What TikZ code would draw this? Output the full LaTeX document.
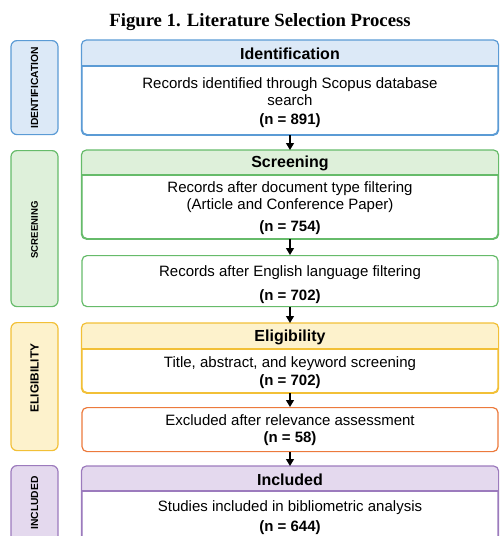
\documentclass[tikz,border=0pt]{standalone}
\usepackage{fontspec}
\setmainfont{Liberation Sans}
\newfontfamily\titlefont{Liberation Serif}
\usepackage{tikz}
\usetikzlibrary{arrows.meta,calc}
\definecolor{identline}{HTML}{5B9BD5}
\definecolor{identfill}{HTML}{DCE9F7}
\definecolor{screenline}{HTML}{66BB6A}
\definecolor{screenfill}{HTML}{DEF0DA}
\definecolor{eligline}{HTML}{F2C037}
\definecolor{eligfill}{HTML}{FDF2CC}
\definecolor{exclline}{HTML}{EC7A3C}
\definecolor{inclline}{HTML}{9C7BBD}
\definecolor{inclfill}{HTML}{E4D9EE}
\tikzset{
  sidebox/.style={rounded corners=6pt, line width=1.2pt, minimum width=47pt, anchor=north, inner sep=0pt},
  sidetext/.style={rotate=90, font=\bfseries\fontsize{#1}{#1}\selectfont, inner sep=0pt},
  mainbox/.style={fill=white, rounded corners=5pt, line width=1.2pt, minimum width=416pt, anchor=north, inner sep=0pt},
  headtext/.style={font=\bfseries\fontsize{16}{18}\selectfont, inner sep=0pt},
  bodytext/.style={font=\fontsize{15}{17}\selectfont, align=center, inner sep=0pt},
  counttext/.style={font=\bfseries\fontsize{15}{17}\selectfont, inner sep=0pt},
  flow/.style={line width=1.3pt, -{Triangle[length=7pt,width=8pt]}}
}

\begin{document}
\begin{tikzpicture}[x=1pt, y={(0pt,-1pt)}]
    \useasboundingbox (0,0) rectangle (499,536);
    \clip (0,0) rectangle (499,536);
    %Values
    \def\hh{26};
    \def\cx{290};

    \node[font=\titlefont\bfseries\fontsize{18.7}{20}\selectfont, inner sep=0pt] (title) at (260,22) {Figure 1. Literature Selection Process};

    % side stages
    \node[sidebox, draw=identline, fill=identfill, minimum height=94pt] (identside) at (34.5,40) {};
    \node[sidetext=10.3] (identlab) at (34.5,88) {IDENTIFICATION};
    \node[sidebox, draw=screenline, fill=screenfill, minimum height=156pt] (screenside) at (34.5,150) {};
    \node[sidetext=9.6] (screenlab) at (34.5,230) {SCREENING};
    \node[sidebox, draw=eligline, fill=eligfill, minimum height=128pt] (eligside) at (34.5,322) {};
    \node[sidetext=11.8] (eliglab) at (34.5,378) {ELIGIBILITY};
    \node[sidebox, draw=inclline, fill=inclfill, minimum height=110pt] (inclside) at (34.5,465) {};
    \node[sidetext=10.3] (incllab) at (34.5,503) {INCLUDED};

    % Identification
    \node[mainbox, draw=identline, minimum height=94pt] (idbox) at (\cx,40) {};
    \fill[identfill] ($(idbox.north west)+(0,\hh)$) [rounded corners=5pt] -- (idbox.north west) -- (idbox.north east) [sharp corners] -- ($(idbox.north east)+(0,\hh)$) -- cycle;
    \draw[identline, line width=1.2pt] ($(idbox.north west)+(0,\hh)$) -- ($(idbox.north east)+(0,\hh)$);
    \draw[identline, line width=1.2pt, rounded corners=5pt] (idbox.north west) rectangle (idbox.south east);
    \node[headtext] (idhead) at (\cx,53.5) {Identification};
    \node[bodytext] (idtxt) at (\cx,92) {Records identified through Scopus database\\search};
    \node[counttext] (idn) at (\cx,120.5) {(n = 891)};

    % Screening
    \node[mainbox, draw=screenline, minimum height=88pt] (scrbox) at (\cx,150) {};
    \fill[screenfill] ($(scrbox.north west)+(0,25)$) [rounded corners=5pt] -- (scrbox.north west) -- (scrbox.north east) [sharp corners] -- ($(scrbox.north east)+(0,25)$) -- cycle;
    \draw[screenline, line width=1.2pt] ($(scrbox.north west)+(0,25)$) -- ($(scrbox.north east)+(0,25)$);
    \draw[screenline, line width=1.2pt, rounded corners=5pt] (scrbox.north west) rectangle (scrbox.south east);
    \node[headtext] (scrhead) at (\cx,163.5) {Screening};
    \node[bodytext] (scrtxt) at (\cx,197.5) {Records after document type filtering\\(Article and Conference Paper)};
    \node[counttext] (scrn) at (\cx,227.5) {(n = 754)};

    \node[mainbox, draw=screenline, minimum height=51pt] (engbox) at (\cx,255) {};
    \node[bodytext] (engtxt) at (\cx,272.5) {Records after English language filtering};
    \node[counttext] (engn) at (\cx,296.5) {(n = 702)};

    % Eligibility
    \node[mainbox, draw=eligline, minimum height=69pt] (eligbox) at (\cx,323) {};
    \fill[eligfill] ($(eligbox.north west)+(0,\hh)$) [rounded corners=5pt] -- (eligbox.north west) -- (eligbox.north east) [sharp corners] -- ($(eligbox.north east)+(0,\hh)$) -- cycle;
    \draw[eligline, line width=1.2pt] ($(eligbox.north west)+(0,\hh)$) -- ($(eligbox.north east)+(0,\hh)$);
    \draw[eligline, line width=1.2pt, rounded corners=5pt] (eligbox.north west) rectangle (eligbox.south east);
    \node[headtext] (elighead) at (\cx,337.5) {Eligibility};
    \node[bodytext] (eligtxt) at (\cx,363.5) {Title, abstract, and keyword screening};
    \node[counttext] (elign) at (\cx,381.5) {(n = 702)};

    \node[mainbox, draw=exclline, minimum height=44pt] (exclbox) at (\cx,407) {};
    \node[bodytext] (excltxt) at (\cx,420.5) {Excluded after relevance assessment};
    \node[counttext] (excln) at (\cx,438.5) {(n = 58)};

    % Included
    \node[mainbox, draw=inclline, minimum height=100pt] (inclbox) at (\cx,466) {};
    \fill[inclfill] ($(inclbox.north west)+(0,25)$) [rounded corners=5pt] -- (inclbox.north west) -- (inclbox.north east) [sharp corners] -- ($(inclbox.north east)+(0,25)$) -- cycle;
    \draw[inclline, line width=1.2pt] ($(inclbox.north west)+(0,25)$) -- ($(inclbox.north east)+(0,25)$);
    \draw[inclline, line width=1.2pt, rounded corners=5pt] (inclbox.north west) rectangle (inclbox.south east);
    \node[headtext] (inclhead) at (\cx,479.5) {Included};
    \node[bodytext] (incltxt) at (\cx,507.5) {Studies included in bibliometric analysis};
    \node[counttext] (incln) at (\cx,527.5) {(n = 644)};

    % arrows
    \draw[flow] (idbox.south) -- (scrbox.north);
    \draw[flow] (scrbox.south) -- (engbox.north);
    \draw[flow] (engbox.south) -- (eligbox.north);
    \draw[flow] (eligbox.south) -- (exclbox.north);
    \draw[flow] (exclbox.south) -- (inclbox.north);
\end{tikzpicture}
\end{document}
